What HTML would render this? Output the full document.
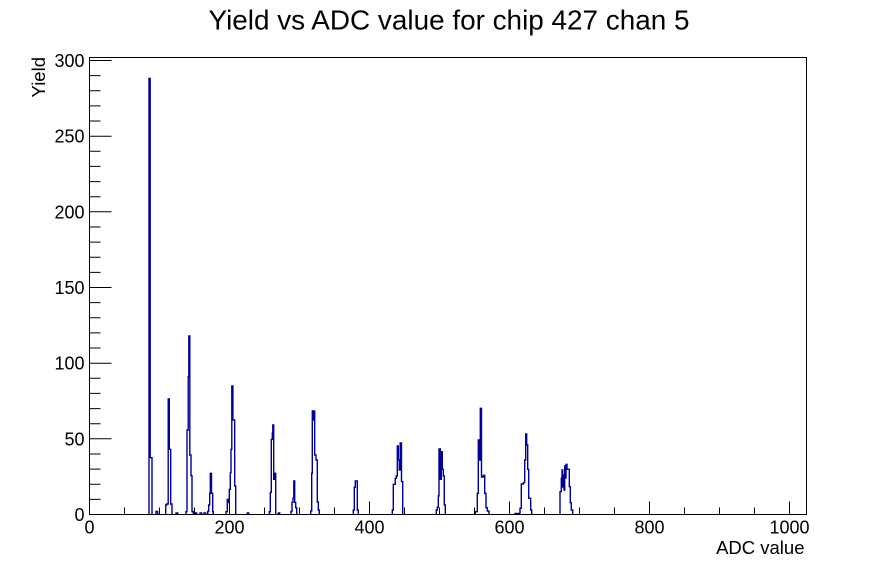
<!DOCTYPE html>
<html>
<head>
<meta charset="utf-8">
<style>
  html, body { margin: 0; padding: 0; background: #ffffff; }
  svg { display: block; }
  text { font-family: "Liberation Sans", Arial, Helvetica, sans-serif; fill: #000; }
</style>
</head>
<body>
<svg width="896" height="572" viewBox="0 0 896 572" xmlns="http://www.w3.org/2000/svg">
  <rect x="0" y="0" width="896" height="572" fill="#ffffff"/>

  <!-- Title -->
  <text x="208.5" y="29.5" font-size="28" textLength="481" lengthAdjust="spacingAndGlyphs">Yield vs ADC value for chip 427 chan 5</text>

  <!-- Histogram -->
  <g fill="none" stroke="#000099" stroke-width="1.4" stroke-linejoin="miter">
    <path d="M149,514.5 V78.5 H150.2 V457.7 H152 V514.5"/>
    <path d="M156,514.5 V511.5 H157.7 V514.5"/>
    <path d="M165.7,514.5 V505 H166.7 V504 H168.2 V399 H169.3 V449.3 H170.7 V504 H172 V514.5"/>
    <path d="M176,514.5 V513 H177.7 V514.5"/>
    <path d="M186,514.5 V511.7 H187 V430 H188.2 V376.7 H188.8 V336 H189.8 V455 H191 V475.7 H192 V511.7 H193.3 V514.5"/>
    <path d="M195.3,514.5 V513 H196.7 V514.5"/>
    <path d="M200,514.5 V513 H201.7 V514.5"/>
    <path d="M204,514.5 V513 H205.7 V514.5"/>
    <path d="M207.7,514.5 V511.5 H208.7 V505 H209.7 V493.3 H210.3 V473.3 H211.5 V493.3 H212.7 V511.7 H213.3 V514.5"/>
    <path d="M226,514.5 V511.7 H227.3 V499.3 H228.3 V502.5 H229.3 V489.3 H230.3 V472.7 H231 V449.3 H231.8 V386 H232.9 V420 H234.7 V486 H235.7 V514.5"/>
    <path d="M247.3,514.5 V513 H248.7 V514.5"/>
    <path d="M269.3,514.5 V511.7 H270.3 V492.3 H271.3 V439.3 H272.3 V433.3 H272.8 V425 H273.7 V479.3 H274.7 V473.3 H275.7 V514.5"/>
    <path d="M278.3,514.5 V513 H279.7 V514.5"/>
    <path d="M291,514.5 V511.5 H292 V502.3 H293 V498.3 H293.8 V481 H294.7 V502.3 H295.7 V507.7 H296.7 V514.5"/>
    <path d="M310.7,514.5 V511 H311.7 V473.3 H312.3 V411 H313 V420 H313.7 V411 H314.7 V455 H316 V460 H317.3 V502 H318.3 V510 H319.3 V514.5"/>
    <path d="M353.3,514.5 V510 H354.3 V487.3 H355.3 V481 H357.3 V510 H358.3 V514.5"/>
    <path d="M392.3,514.5 V510 H393.3 V484.3 H395.3 V478.3 H396.3 V476 H397.3 V446 H398.3 V460 H399.3 V470 H400.2 V443 H401.5 V481.7 H402.7 V514.5"/>
    <path d="M436.3,514.5 V510 H437.3 V507.3 H438.3 V496 H439 V449 H440.3 V479.3 H441.3 V451.7 H442.3 V469.3 H443.3 V476 H444.3 V505 H445.3 V514.5"/>
    <path d="M475.3,514.5 V511.7 H477.3 V493.3 H478.3 V440 H479.3 V460 H480.3 V408.3 H481.5 V477 H483.3 V475.3 H484.7 V493.3 H486 V507.7 H487.3 V511 H489 V514.5"/>
    <path d="M515,514.5 V513.5 H520 V508.3 H521.3 V484 H523.3 V482.7 H524.7 V460 H525.7 V434 H526.7 V445 H527.7 V469.3 H528.7 V498.3 H530.7 V510 H531.7 V514.5"/>
    <path d="M560,514.5 V491.7 H561.3 V478.3 H562 V470 H562.7 V487 H563.3 V475 H564 V490 H564.7 V466 H565.3 V478 H566 V464.3 H567 V469.3 H568.3 V469.3 H569.3 V486.7 H570.3 V502.7 H571.3 V510 H572.7 V514.5"/>
  </g>

  <!-- Frame -->
  <rect x="89.5" y="57.5" width="717" height="457" fill="none" stroke="#000" stroke-width="1"/>

  <!-- Y ticks -->
  <g stroke="#000" stroke-width="1" fill="none">
    <path d="
      M89.5,514.5 H111.5
      M89.5,499.4 H100.5
      M89.5,484.2 H100.5
      M89.5,469.1 H100.5
      M89.5,454.0 H100.5
      M89.5,438.8 H111.5
      M89.5,423.7 H100.5
      M89.5,408.6 H100.5
      M89.5,393.4 H100.5
      M89.5,378.3 H100.5
      M89.5,363.2 H111.5
      M89.5,348.0 H100.5
      M89.5,332.9 H100.5
      M89.5,317.8 H100.5
      M89.5,302.6 H100.5
      M89.5,287.5 H111.5
      M89.5,272.4 H100.5
      M89.5,257.2 H100.5
      M89.5,242.1 H100.5
      M89.5,227.0 H100.5
      M89.5,211.8 H111.5
      M89.5,196.7 H100.5
      M89.5,181.6 H100.5
      M89.5,166.4 H100.5
      M89.5,151.3 H100.5
      M89.5,136.2 H111.5
      M89.5,121.0 H100.5
      M89.5,105.9 H100.5
      M89.5,90.8 H100.5
      M89.5,75.6 H100.5
      M89.5,60.5 H111.5
    "/>
    <!-- X ticks -->
    <path d="
      M89.5,514.5 V501.5
      M124.5,514.5 V507.5
      M159.5,514.5 V507.5
      M194.5,514.5 V507.5
      M229.5,514.5 V501.5
      M264.5,514.5 V507.5
      M299.5,514.5 V507.5
      M334.5,514.5 V507.5
      M369.5,514.5 V501.5
      M404.5,514.5 V507.5
      M439.5,514.5 V507.5
      M474.5,514.5 V507.5
      M509.5,514.5 V501.5
      M544.5,514.5 V507.5
      M579.5,514.5 V507.5
      M614.5,514.5 V507.5
      M649.5,514.5 V501.5
      M684.5,514.5 V507.5
      M719.5,514.5 V507.5
      M754.5,514.5 V507.5
      M789.5,514.5 V501.5
    "/>
  </g>

  <!-- Y tick labels -->
  <g font-size="18" text-anchor="end">
    <text x="84.5" y="521">0</text>
    <text x="84.5" y="445.3">50</text>
    <text x="84.5" y="369.7">100</text>
    <text x="84.5" y="294">150</text>
    <text x="84.5" y="218.3">200</text>
    <text x="84.5" y="142.7">250</text>
    <text x="84.5" y="67">300</text>
  </g>

  <!-- X tick labels -->
  <g font-size="18" text-anchor="middle">
    <text x="89.5" y="533.5">0</text>
    <text x="229.5" y="533.5">200</text>
    <text x="369.5" y="533.5">400</text>
    <text x="509.5" y="533.5">600</text>
    <text x="649.5" y="533.5">800</text>
    <text x="789.5" y="533.5">1000</text>
  </g>

  <!-- Axis titles -->
  <text x="804.5" y="554" font-size="18.5" text-anchor="end">ADC value</text>
  <text transform="translate(45,57) rotate(-90)" x="0" y="0" font-size="18.5" text-anchor="end">Yield</text>
</svg>
</body>
</html>
